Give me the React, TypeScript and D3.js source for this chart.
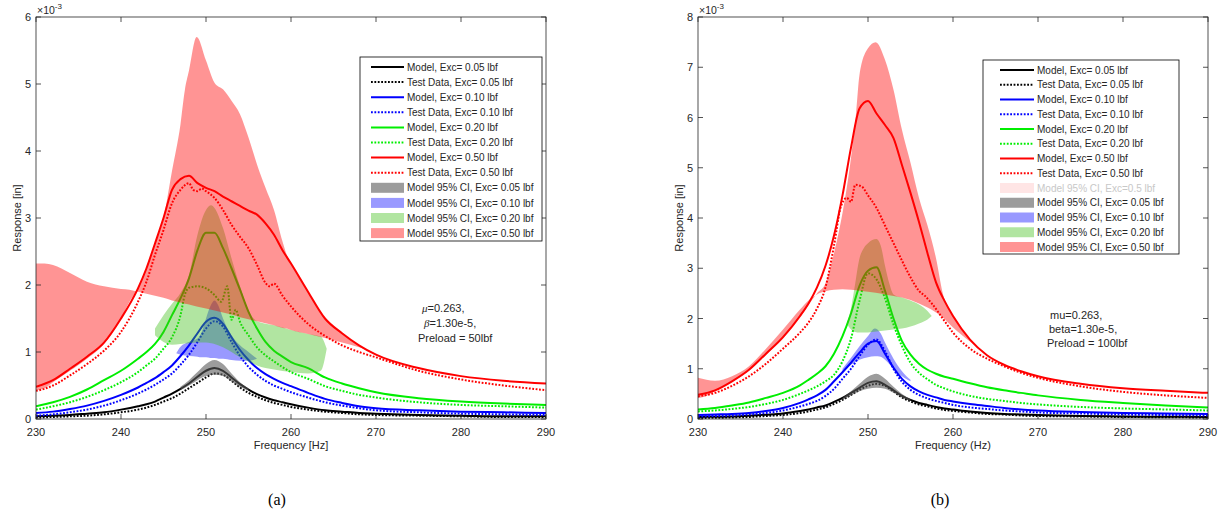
import React from 'react';
import * as d3 from 'd3';

// ---------- shared frequency grid ----------
const FREQ = [230, 232, 234, 236, 238, 240, 242, 243, 244, 245, 246, 247, 248, 249, 250, 251, 252, 253, 254, 255, 256, 257, 258, 259, 260, 262, 264, 266, 268, 270, 275, 280, 285, 290];
const X_TICKS = [230, 240, 250, 260, 270, 280, 290];
const Y_TICKS_A = [0, 1, 2, 3, 4, 5, 6];
const Y_TICKS_B = [0, 1, 2, 3, 4, 5, 6, 7, 8];

// ---------- panel (a) : values in 1e-3 in ----------
const aBlackModel = [0.04, 0.05, 0.06, 0.08, 0.10, 0.14, 0.19, 0.22, 0.26, 0.32, 0.38, 0.45, 0.53, 0.63, 0.72, 0.76, 0.72, 0.62, 0.52, 0.44, 0.37, 0.32, 0.28, 0.25, 0.22, 0.17, 0.13, 0.11, 0.09, 0.08, 0.06, 0.05, 0.04, 0.04];
const aBlackTest = [0.02, 0.03, 0.04, 0.05, 0.07, 0.10, 0.14, 0.17, 0.21, 0.26, 0.31, 0.38, 0.46, 0.54, 0.62, 0.68, 0.66, 0.57, 0.47, 0.39, 0.33, 0.28, 0.24, 0.21, 0.18, 0.14, 0.11, 0.09, 0.07, 0.06, 0.05, 0.04, 0.03, 0.03];
const aBlueModel = [0.09, 0.11, 0.15, 0.20, 0.27, 0.36, 0.47, 0.54, 0.61, 0.70, 0.80, 0.94, 1.10, 1.28, 1.45, 1.51, 1.42, 1.22, 1.03, 0.88, 0.76, 0.67, 0.60, 0.54, 0.49, 0.39, 0.30, 0.24, 0.19, 0.16, 0.13, 0.11, 0.10, 0.09];
const aBlueTest = [0.05, 0.07, 0.10, 0.14, 0.20, 0.28, 0.38, 0.44, 0.51, 0.59, 0.68, 0.81, 0.96, 1.15, 1.35, 1.46, 1.38, 1.15, 0.94, 0.78, 0.66, 0.57, 0.50, 0.45, 0.40, 0.32, 0.25, 0.20, 0.16, 0.13, 0.10, 0.08, 0.07, 0.06];
const aGreenModel = [0.19, 0.25, 0.33, 0.44, 0.58, 0.72, 0.90, 1.00, 1.12, 1.30, 1.55, 1.80, 2.10, 2.52, 2.78, 2.78, 2.55, 2.25, 1.93, 1.60, 1.35, 1.15, 1.02, 0.93, 0.85, 0.76, 0.62, 0.53, 0.46, 0.40, 0.31, 0.26, 0.23, 0.21];
const aGreenTestF = [230, 232, 234, 236, 238, 240, 242, 243, 244, 245, 246, 247, 247.5, 248, 249, 250, 251, 251.8, 252.5, 253, 253.5, 254, 255, 256, 257, 258, 260, 262, 264, 266, 268, 270, 275, 280, 285, 290];
const aGreenTest = [0.14, 0.19, 0.25, 0.33, 0.43, 0.55, 0.70, 0.80, 0.90, 1.05, 1.22, 1.55, 1.85, 1.96, 1.98, 1.95, 1.85, 1.75, 1.98, 1.48, 1.63, 1.45, 1.25, 1.07, 0.95, 0.86, 0.70, 0.60, 0.49, 0.42, 0.36, 0.32, 0.25, 0.21, 0.19, 0.17];
const aRedModel = [0.48, 0.58, 0.75, 0.93, 1.14, 1.50, 1.95, 2.25, 2.62, 3.00, 3.42, 3.58, 3.63, 3.52, 3.45, 3.40, 3.32, 3.25, 3.18, 3.11, 3.05, 2.92, 2.75, 2.52, 2.32, 1.90, 1.50, 1.28, 1.10, 0.96, 0.76, 0.64, 0.57, 0.53];
const aRedTestF = [230, 231, 232, 234, 236, 238, 240, 242, 243, 244, 245, 246, 247, 248, 248.5, 249, 249.5, 250, 251, 252, 253, 254, 255, 256, 257, 257.5, 258, 259, 260, 262, 264, 266, 268, 270, 275, 280, 285, 290];
const aRedTest = [0.42, 0.45, 0.50, 0.65, 0.82, 1.02, 1.30, 1.75, 2.05, 2.45, 2.82, 3.22, 3.42, 3.52, 3.42, 3.40, 3.44, 3.40, 3.30, 3.12, 2.90, 2.72, 2.55, 2.30, 2.03, 1.98, 2.02, 1.84, 1.68, 1.42, 1.24, 1.10, 1.00, 0.92, 0.72, 0.59, 0.50, 0.43];

const aGreyBandF = [247, 248, 249, 250, 251, 252, 253, 254, 255];
const aGreyHi = [0.48, 0.58, 0.70, 0.82, 0.88, 0.82, 0.68, 0.55, 0.46];
const aGreyLo = [0.43, 0.50, 0.58, 0.64, 0.66, 0.64, 0.56, 0.48, 0.42];
const aBlueBandF = [246.5, 247, 248, 249, 249.5, 250, 250.5, 251, 251.5, 252, 253, 254, 255, 256];
const aBlueHi = [0.98, 1.08, 1.15, 1.20, 1.30, 1.50, 1.68, 1.77, 1.68, 1.50, 1.25, 1.10, 1.00, 0.90];
const aBlueLo = [0.98, 0.96, 0.94, 0.93, 0.92, 0.92, 0.91, 0.91, 0.90, 0.90, 0.88, 0.87, 0.87, 0.90];
const aGreenBandF = [244, 245, 246, 247, 248, 249, 250, 250.6, 251, 252, 253, 254, 255, 256, 258, 260, 262, 263.5, 264.2];
const aGreenHi = [1.35, 1.55, 1.72, 1.88, 2.15, 2.75, 3.12, 3.19, 3.15, 2.85, 2.40, 1.98, 1.62, 1.46, 1.40, 1.33, 1.27, 1.23, 1.05];
const aGreenLo = [1.25, 1.15, 1.11, 1.12, 1.13, 1.14, 1.14, 1.13, 1.12, 1.07, 1.00, 0.92, 0.86, 0.80, 0.74, 0.70, 0.68, 0.72, 1.05];
const aRedBandF = [230, 231, 232, 234, 236, 238, 240, 241, 242, 243, 244, 245, 246, 247, 247.5, 248, 248.9, 250, 251, 252, 253, 254, 255, 256, 257, 258, 259, 259.5, 260, 262, 264, 266, 268, 269];
const aRedEdge1 = [2.32, 2.32, 2.30, 2.18, 2.05, 1.98, 1.94, 1.93, 1.90, 1.87, 1.84, 1.81, 1.77, 1.74, 1.72, 1.71, 1.68, 1.65, 1.62, 1.59, 1.56, 1.52, 1.49, 1.46, 1.43, 1.40, 1.36, 1.35, 1.33, 1.27, 1.21, 1.14, 1.07, 1.03];
const aRedEdge2 = [0.43, 0.46, 0.55, 0.72, 0.90, 1.12, 1.50, 1.75, 1.95, 2.25, 2.62, 3.00, 3.70, 4.40, 4.90, 5.20, 5.70, 5.35, 5.02, 4.92, 4.75, 4.55, 4.20, 3.80, 3.45, 3.12, 2.65, 2.45, 2.32, 1.90, 1.50, 1.28, 1.10, 1.03];

// ---------- panel (b) ----------
const bBlackModel = [0.04, 0.045, 0.05, 0.065, 0.085, 0.11, 0.16, 0.19, 0.23, 0.27, 0.34, 0.42, 0.52, 0.62, 0.72, 0.75, 0.68, 0.57, 0.46, 0.38, 0.32, 0.28, 0.24, 0.21, 0.19, 0.15, 0.12, 0.10, 0.09, 0.08, 0.06, 0.05, 0.045, 0.04];
const bBlackTest = [0.02, 0.025, 0.03, 0.04, 0.06, 0.08, 0.12, 0.15, 0.19, 0.23, 0.30, 0.38, 0.48, 0.58, 0.66, 0.70, 0.66, 0.55, 0.43, 0.35, 0.29, 0.25, 0.21, 0.18, 0.16, 0.13, 0.10, 0.09, 0.07, 0.06, 0.05, 0.04, 0.035, 0.03];
const bBlueModel = [0.08, 0.09, 0.10, 0.12, 0.16, 0.22, 0.32, 0.39, 0.47, 0.58, 0.75, 0.93, 1.12, 1.32, 1.50, 1.55, 1.30, 1.02, 0.80, 0.65, 0.55, 0.48, 0.43, 0.38, 0.35, 0.30, 0.26, 0.22, 0.19, 0.17, 0.14, 0.12, 0.11, 0.10];
const bBlueTest = [0.05, 0.06, 0.07, 0.09, 0.12, 0.17, 0.25, 0.30, 0.36, 0.46, 0.60, 0.80, 1.00, 1.25, 1.48, 1.58, 1.35, 1.00, 0.74, 0.58, 0.48, 0.41, 0.36, 0.32, 0.28, 0.23, 0.20, 0.17, 0.15, 0.13, 0.11, 0.09, 0.08, 0.07];
const bGreenModel = [0.19, 0.22, 0.27, 0.33, 0.42, 0.52, 0.67, 0.78, 0.90, 1.05, 1.30, 1.65, 2.10, 2.65, 2.95, 3.02, 2.55, 2.00, 1.55, 1.28, 1.10, 0.98, 0.90, 0.84, 0.80, 0.71, 0.63, 0.57, 0.52, 0.47, 0.38, 0.32, 0.27, 0.23];
const bGreenTest = [0.15, 0.17, 0.20, 0.24, 0.30, 0.38, 0.50, 0.57, 0.65, 0.75, 0.88, 1.15, 1.60, 2.35, 2.90, 2.78, 2.40, 1.88, 1.45, 1.12, 0.92, 0.79, 0.68, 0.61, 0.55, 0.46, 0.40, 0.36, 0.32, 0.29, 0.24, 0.21, 0.19, 0.17];
const bRedModel = [0.48, 0.57, 0.75, 0.98, 1.30, 1.63, 2.05, 2.30, 2.62, 3.05, 3.65, 4.45, 5.40, 6.18, 6.33, 6.08, 5.85, 5.59, 5.05, 4.50, 3.92, 3.30, 2.72, 2.35, 2.05, 1.58, 1.27, 1.08, 0.95, 0.85, 0.70, 0.61, 0.56, 0.52];
const bRedTestF = [230, 232, 234, 236, 238, 240, 242, 243, 244, 245, 246, 246.8, 247.5, 248, 248.5, 249.3, 250, 251, 252, 253, 254, 255, 256, 256.7, 257.5, 259, 260, 262, 264, 266, 268, 270, 275, 280, 285, 290];
const bRedTest = [0.45, 0.52, 0.66, 0.85, 1.10, 1.40, 1.72, 1.92, 2.20, 2.62, 3.45, 4.22, 4.40, 4.32, 4.66, 4.62, 4.45, 4.20, 3.85, 3.50, 3.15, 2.82, 2.55, 2.45, 2.30, 1.95, 1.72, 1.40, 1.20, 1.05, 0.92, 0.82, 0.65, 0.54, 0.47, 0.42];

const bGreyBandF = [247, 248, 249, 250, 251, 252, 253, 254, 255];
const bGreyHi = [0.42, 0.55, 0.70, 0.84, 0.90, 0.80, 0.64, 0.50, 0.40];
const bGreyLo = [0.38, 0.47, 0.55, 0.60, 0.62, 0.60, 0.52, 0.43, 0.36];
const bBlueBandF = [247, 248, 249, 250, 250.8, 251.5, 252, 253, 254, 255];
const bBlueHi = [1.00, 1.22, 1.45, 1.65, 1.80, 1.70, 1.52, 1.20, 0.95, 0.78];
const bBlueLo = [0.95, 1.08, 1.18, 1.23, 1.25, 1.24, 1.18, 1.00, 0.85, 0.75];
const bGreenBandF = [247.5, 248, 248.5, 249, 249.5, 250, 250.5, 251, 251.5, 252, 252.5, 253, 254, 255, 256, 257, 257.5];
const bGreenHi = [1.90, 2.20, 2.70, 3.20, 3.40, 3.50, 3.56, 3.58, 3.45, 3.05, 2.70, 2.48, 2.42, 2.36, 2.28, 2.15, 2.05];
const bGreenLo = [1.90, 1.78, 1.73, 1.72, 1.72, 1.72, 1.73, 1.74, 1.75, 1.76, 1.77, 1.78, 1.80, 1.84, 1.90, 1.98, 2.05];
const bRedBandF = [230, 231, 232, 234, 236, 238, 240, 242, 243, 244, 245, 246, 247, 248, 248.6, 249, 250, 250.9, 252, 253, 254, 255, 256, 257, 258, 258.8, 260, 262, 263, 264];
const bRedEdge1 = [0.82, 0.78, 0.76, 0.85, 1.05, 1.40, 1.78, 2.18, 2.36, 2.48, 2.54, 2.57, 2.58, 2.57, 2.56, 2.55, 2.53, 2.51, 2.48, 2.45, 2.42, 2.37, 2.30, 2.22, 2.12, 2.02, 1.82, 1.54, 1.40, 1.28];
const bRedEdge2 = [0.42, 0.46, 0.55, 0.74, 0.97, 1.28, 1.60, 2.02, 2.27, 2.50, 2.70, 3.30, 4.10, 5.20, 6.09, 6.85, 7.38, 7.50, 7.15, 6.55, 5.75, 5.10, 4.40, 3.85, 3.20, 2.50, 2.05, 1.58, 1.42, 1.28];

// ---------- legend texts ----------
const LEGEND_A = [
  'Model, Exc= 0.05 lbf', 'Test Data, Exc= 0.05 lbf', 'Model, Exc= 0.10 lbf', 'Test Data, Exc= 0.10 lbf',
  'Model, Exc= 0.20 lbf', 'Test Data, Exc= 0.20 lbf', 'Model, Exc= 0.50 lbf', 'Test Data, Exc= 0.50 lbf',
  'Model 95% CI, Exc= 0.05 lbf', 'Model 95% CI, Exc= 0.10 lbf', 'Model 95% CI, Exc= 0.20 lbf', 'Model 95% CI, Exc= 0.50 lbf',
];
const LEGEND_B = [
  'Model, Exc= 0.05 lbf', 'Test Data, Exc= 0.05 lbf', 'Model, Exc= 0.10 lbf', 'Test Data, Exc= 0.10 lbf',
  'Model, Exc= 0.20 lbf', 'Test Data, Exc= 0.20 lbf', 'Model, Exc= 0.50 lbf', 'Test Data, Exc= 0.50 lbf',
  'Model 95% CI, Exc=0.5 lbf',
  'Model 95% CI, Exc= 0.05 lbf', 'Model 95% CI, Exc= 0.10 lbf', 'Model 95% CI, Exc= 0.20 lbf', 'Model 95% CI, Exc= 0.50 lbf',
];

const COLORS = { black: '#000000', blue: '#0000ff', green: '#00ee00', red: '#ff0000' };
const BAND = {
  grey: { fill: '#5a5a5a', op: 0.6 },
  blue: { fill: '#0000ff', op: 0.4 },
  green: { fill: '#3cbe14', op: 0.4 },
  red: { fill: '#ff0000', op: 0.42 },
  faint: { fill: '#ff0000', op: 0.1 },
};
const DOT = '1.8,1.6';
const FONT = 'Liberation Sans, Arial, Helvetica, sans-serif';
const AX = '#262626';

function Panel({ p }) {
  const x = d3.scaleLinear().domain([230, 290]).range([p.left, p.right]);
  const y = d3.scaleLinear().domain([0, p.ymax]).range([p.bottom, p.top]);
  const lineGen = (f, v) =>
    d3.line().x((d) => x(d[0])).y((d) => y(d[1])).curve(d3.curveMonotoneX)(f.map((ff, i) => [ff, v[i]]));
  const areaGen = (f, a, b) =>
    d3.area().x((d) => x(d[0])).y0((d) => y(d[1])).y1((d) => y(d[2])).curve(d3.curveMonotoneX)(f.map((ff, i) => [ff, a[i], b[i]]));
  const clipId = 'clip-' + p.id;
  return (
    <g>
      <defs>
        <clipPath id={clipId}>
          <rect x={p.left} y={p.top} width={p.right - p.left} height={p.bottom - p.top} />
        </clipPath>
      </defs>
      <g clipPath={`url(#${clipId})`}>
        {p.lines.map((l, i) => (
          <path key={'l' + i} d={lineGen(l.f, l.v)} fill="none" stroke={l.color} strokeWidth={2}
            strokeDasharray={l.dotted ? DOT : undefined} />
        ))}
        {p.bands.map((b, i) => (
          <path key={'b' + i} d={areaGen(b.f, b.a, b.b)} fill={BAND[b.kind].fill} fillOpacity={BAND[b.kind].op} stroke="none" />
        ))}
      </g>
      {/* axes box */}
      <rect x={p.left} y={p.top} width={p.right - p.left} height={p.bottom - p.top} fill="none" stroke={AX} strokeWidth={0.8} />
      {X_TICKS.map((t) => (
        <g key={'xt' + t}>
          <line x1={x(t)} x2={x(t)} y1={p.bottom} y2={p.bottom - 5} stroke={AX} strokeWidth={0.8} />
          <line x1={x(t)} x2={x(t)} y1={p.top} y2={p.top + 5} stroke={AX} strokeWidth={0.8} />
          <text x={x(t)} y={p.bottom + 17} textAnchor="middle" fontSize={11} fill={AX} fontFamily={FONT}>{t}</text>
        </g>
      ))}
      {p.yTicks.map((t) => (
        <g key={'yt' + t}>
          <line x1={p.left} x2={p.left + 5} y1={y(t)} y2={y(t)} stroke={AX} strokeWidth={0.8} />
          <line x1={p.right} x2={p.right - 5} y1={y(t)} y2={y(t)} stroke={AX} strokeWidth={0.8} />
          <text x={p.left - 5} y={y(t) + 4} textAnchor="end" fontSize={11} fill={AX} fontFamily={FONT}>{t}</text>
        </g>
      ))}
      <text x={p.left + 1} y={14} fontSize={10.5} fill={AX} fontFamily={FONT}>
        ×10<tspan dy={-5} fontSize={8}>-3</tspan>
      </text>
      <text x={(p.left + p.right) / 2} y={449} textAnchor="middle" fontSize={11} fill={AX} fontFamily={FONT}>{p.xlabel}</text>
      <text transform={`translate(${p.left - 15},${(p.top + p.bottom) / 2}) rotate(-90)`} textAnchor="middle" fontSize={11} fill={AX} fontFamily={FONT}>Response [in]</text>
      {/* annotation */}
      {p.notes.map((n, i) => (
        <text key={'n' + i} x={n.x} y={n.y} fontSize={11} fill={AX} fontFamily={FONT}>
          {n.sym ? <tspan fontStyle="italic" fontFamily="Liberation Serif, serif">{n.sym}</tspan> : null}
          {n.text}
        </text>
      ))}
      {/* legend */}
      <rect x={p.leg.x} y={p.leg.y} width={p.leg.w} height={p.leg.h} fill="#ffffff" stroke="#000" strokeWidth={0.8} />
      {p.legend.map((e, i) => {
        const cy = p.leg.y0 + i * p.leg.dy;
        return (
          <g key={'lg' + i}>
            {e.kind === 'line' ? (
              <line x1={p.leg.sx} x2={p.leg.sx + p.leg.sw} y1={cy} y2={cy} stroke={e.color} strokeWidth={2}
                strokeDasharray={e.dotted ? DOT : undefined} />
            ) : (
              <rect x={p.leg.sx} y={cy - 5} width={p.leg.sw} height={10} fill={BAND[e.band].fill} fillOpacity={BAND[e.band].op} />
            )}
            <text x={p.leg.sx + p.leg.sw + 3} y={cy + 3.6} fontSize={10} fill={e.faint ? '#c8c8c8' : AX} fontFamily={FONT}>{e.label}</text>
          </g>
        );
      })}
    </g>
  );
}

function legendEntries(labels, hasFaint) {
  const lineCols = ['black', 'black', 'blue', 'blue', 'green', 'green', 'red', 'red'];
  const out = labels.slice(0, 8).map((lab, i) => ({ kind: 'line', color: COLORS[lineCols[i]], dotted: i % 2 === 1, label: lab }));
  const bandKinds = hasFaint ? ['faint', 'grey', 'blue', 'green', 'red'] : ['grey', 'blue', 'green', 'red'];
  labels.slice(8).forEach((lab, i) => out.push({ kind: 'band', band: bandKinds[i], label: lab, faint: bandKinds[i] === 'faint' }));
  return out;
}

export default function App() {
  const panelA = {
    id: 'a', left: 36, right: 546, top: 17, bottom: 419, ymax: 6, yTicks: Y_TICKS_A, xlabel: 'Frequency [Hz]',
    lines: [
      { f: FREQ, v: aBlackModel, color: COLORS.black },
      { f: FREQ, v: aBlackTest, color: COLORS.black, dotted: true },
      { f: FREQ, v: aBlueModel, color: COLORS.blue },
      { f: FREQ, v: aBlueTest, color: COLORS.blue, dotted: true },
      { f: FREQ, v: aGreenModel, color: COLORS.green },
      { f: aGreenTestF, v: aGreenTest, color: COLORS.green, dotted: true },
      { f: FREQ, v: aRedModel, color: COLORS.red },
      { f: aRedTestF, v: aRedTest, color: COLORS.red, dotted: true },
    ],
    bands: [
      { f: aGreyBandF, a: aGreyLo, b: aGreyHi, kind: 'grey' },
      { f: aBlueBandF, a: aBlueLo, b: aBlueHi, kind: 'blue' },
      { f: aGreenBandF, a: aGreenLo, b: aGreenHi, kind: 'green' },
      { f: aRedBandF, a: aRedEdge1, b: aRedEdge2, kind: 'red' },
    ],
    notes: [
      { x: 422, y: 312, sym: 'μ', text: '=0.263,' },
      { x: 424, y: 327, sym: 'β', text: '=1.30e-5,' },
      { x: 418, y: 342, text: 'Preload = 50lbf' },
    ],
    leg: { x: 360, y: 57, w: 182, h: 184, y0: 67, dy: 15.1, sx: 371, sw: 33 },
    legend: legendEntries(LEGEND_A, false),
  };
  const panelB = {
    id: 'b', left: 698, right: 1208, top: 17, bottom: 419, ymax: 8, yTicks: Y_TICKS_B, xlabel: 'Frequency (Hz)',
    lines: [
      { f: FREQ, v: bBlackModel, color: COLORS.black },
      { f: FREQ, v: bBlackTest, color: COLORS.black, dotted: true },
      { f: FREQ, v: bBlueModel, color: COLORS.blue },
      { f: FREQ, v: bBlueTest, color: COLORS.blue, dotted: true },
      { f: FREQ, v: bGreenModel, color: COLORS.green },
      { f: FREQ, v: bGreenTest, color: COLORS.green, dotted: true },
      { f: FREQ, v: bRedModel, color: COLORS.red },
      { f: bRedTestF, v: bRedTest, color: COLORS.red, dotted: true },
    ],
    bands: [
      { f: bGreyBandF, a: bGreyLo, b: bGreyHi, kind: 'grey' },
      { f: bBlueBandF, a: bBlueLo, b: bBlueHi, kind: 'blue' },
      { f: bGreenBandF, a: bGreenLo, b: bGreenHi, kind: 'green' },
      { f: bRedBandF, a: bRedEdge1, b: bRedEdge2, kind: 'red' },
    ],
    notes: [
      { x: 1050, y: 319, text: 'mu=0.263,' },
      { x: 1049, y: 333, text: 'beta=1.30e-5,' },
      { x: 1047, y: 347, text: 'Preload = 100lbf' },
    ],
    leg: { x: 983, y: 60, w: 196, h: 194, y0: 70, dy: 14.75, sx: 1000, sw: 34 },
    legend: legendEntries(LEGEND_B, true),
  };
  return (
    <svg width={1227} height={518} style={{ position: 'absolute', left: 0, top: 0, background: '#fff' }}
      xmlns="http://www.w3.org/2000/svg">
      <rect x={0} y={0} width={1227} height={518} fill="#fff" />
      <Panel p={panelA} />
      <Panel p={panelB} />
      <text x={277} y={505} textAnchor="middle" fontSize={16} fontFamily="Liberation Serif, Times New Roman, serif" fill="#000">(a)</text>
      <text x={940} y={505} textAnchor="middle" fontSize={16} fontFamily="Liberation Serif, Times New Roman, serif" fill="#000">(b)</text>
    </svg>
  );
}
